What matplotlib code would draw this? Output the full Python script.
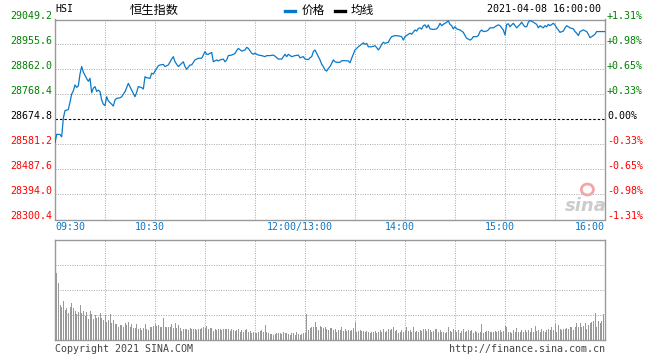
import matplotlib
matplotlib.use('Agg')
import matplotlib.pyplot as plt
import matplotlib.transforms as mtransforms
from matplotlib.lines import Line2D
from matplotlib.patches import Ellipse

# HSI intraday 2021-04-08, x = trading minutes since 09:30 (lunch break removed)
minutes = [0, 1, 3, 4, 5, 6, 8, 9, 10, 11, 12, 13, 14, 15, 16, 17, 18, 19, 20, 21,
           22, 23, 24, 25, 26, 27, 28, 29, 30, 31, 32, 34, 35, 36, 37, 39, 40, 42, 44, 46,
           48, 49, 50, 52, 53, 54, 55, 57, 58, 59, 60, 61, 62, 63, 65, 66, 68, 70, 71, 72,
           74, 76, 77, 78, 79, 81, 82, 84, 86, 88, 89, 90, 91, 92, 94, 95, 97, 98, 99, 101,
           102, 103, 104, 106, 108, 109, 110, 112, 114, 115, 116, 118, 119, 120, 122, 124, 126, 127, 129, 131,
           132, 134, 136, 138, 139, 140, 142, 144, 146, 147, 149, 150, 152, 153, 154, 155, 156, 157, 158, 159,
           160, 161, 162, 163, 164, 165, 166, 167, 168, 169, 171, 172, 174, 176, 177, 178, 179, 180, 181, 182,
           184, 185, 186, 187, 188, 190, 192, 193, 194, 195, 196, 197, 198, 200, 201, 202, 204, 206, 208, 209,
           210, 212, 213, 214, 216, 217, 218, 219, 220, 221, 222, 223, 224, 225, 227, 229, 230, 231, 232, 233,
           234, 235, 236, 237, 238, 239, 240, 241, 243, 245, 246, 247, 248, 249, 250, 251, 253, 254, 255, 256,
           257, 259, 260, 261, 263, 265, 266, 267, 268, 269, 270, 271, 272, 273, 274, 275, 276, 277, 279, 280,
           281, 282, 283, 284, 285, 287, 288, 289, 290, 291, 293, 294, 295, 296, 297, 299, 300, 301, 302, 303,
           305, 306, 307, 308, 309, 311, 312, 313, 314, 315, 317, 319, 320, 321, 323, 324, 325, 327, 330]
prices = [28588, 28619, 28619, 28610, 28680, 28708, 28712, 28740, 28770, 28782, 28804, 28795, 28801, 28845, 28873, 28852, 28840, 28828, 28818, 28829,
          28775, 28792, 28798, 28780, 28785, 28779, 28748, 28732, 28727, 28760, 28744, 28732, 28725, 28748, 28754, 28756, 28760, 28779, 28810, 28785,
          28760, 28777, 28798, 28794, 28789, 28835, 28831, 28829, 28848, 28845, 28856, 28866, 28876, 28879, 28881, 28873, 28879, 28901, 28910, 28891,
          28873, 28885, 28891, 28873, 28863, 28879, 28879, 28898, 28904, 28904, 28916, 28929, 28919, 28919, 28926, 28891, 28898, 28894, 28898, 28901,
          28891, 28898, 28914, 28916, 28922, 28933, 28941, 28931, 28935, 28945, 28941, 28923, 28919, 28923, 28916, 28914, 28910, 28914, 28914, 28916,
          28912, 28901, 28901, 28919, 28910, 28919, 28910, 28914, 28916, 28906, 28910, 28901, 28899, 28906, 28910, 28929, 28935, 28923, 28910, 28898,
          28882, 28873, 28860, 28856, 28866, 28873, 28885, 28898, 28891, 28889, 28889, 28895, 28895, 28894, 28887, 28904, 28919, 28935, 28941, 28947,
          28957, 28962, 28956, 28960, 28947, 28947, 28951, 28944, 28935, 28944, 28956, 28964, 28960, 28964, 28976, 28985, 28989, 28988, 28985, 28972,
          28985, 28994, 28998, 28994, 29010, 29006, 29016, 29018, 29013, 29026, 29029, 29018, 29029, 29014, 29012, 29014, 29022, 29035, 29026, 29031,
          29035, 29039, 29044, 29031, 29026, 29014, 29022, 29014, 29010, 29001, 28989, 28979, 28976, 28972, 28976, 28985, 28985, 28989, 29004, 29010,
          29004, 29006, 29010, 29018, 29018, 29026, 29029, 29026, 29018, 29010, 28991, 29031, 29033, 29022, 29029, 29035, 29026, 29018, 29031, 29039,
          29029, 29022, 29022, 29039, 29046, 29039, 29035, 29031, 29018, 29026, 29018, 29026, 29022, 29031, 29026, 29035, 29029, 29018, 29010, 29001,
          29006, 29018, 29026, 29022, 29018, 29014, 29004, 28998, 28989, 29004, 29010, 29004, 28994, 28981, 28989, 28994, 29004, 29004, 29004]

# volume bars, one per minute 09:31 .. 16:00, height in % of the volume panel
volume = [67, 57, 35, 33, 39, 30, 32, 27, 33, 37, 32, 29, 26, 28, 35, 27, 29, 24, 28, 21,
          29, 26, 21, 25, 22, 23, 27, 22, 20, 25, 18, 20, 26, 17, 20, 16, 16, 13, 15, 15,
          13, 17, 15, 18, 13, 16, 12, 12, 16, 11, 12, 10, 12, 16, 11, 10, 13, 13, 14, 16,
          14, 15, 13, 13, 22, 13, 13, 13, 13, 16, 12, 17, 12, 15, 12, 9, 11, 11, 11, 10,
          12, 11, 11, 11, 10, 11, 11, 12, 13, 12, 14, 11, 12, 12, 9, 11, 10, 11, 11, 10,
          11, 11, 11, 11, 9, 11, 10, 9, 10, 11, 8, 10, 8, 10, 11, 8, 9, 7, 8, 7,
          7, 8, 9, 10, 8, 15, 8, 7, 6, 6, 5, 6, 7, 7, 7, 6, 8, 7, 7, 6,
          5, 7, 7, 5, 8, 6, 5, 6, 7, 7, 26, 10, 12, 13, 13, 18, 13, 10, 14, 13,
          12, 13, 11, 10, 12, 12, 10, 11, 8,
          10, 10, 13, 9, 11, 9, 10, 9, 10, 12, 18, 8, 9, 10, 9, 9, 8, 9, 8, 7,
          8, 8, 9, 7, 8, 10, 8, 11, 8, 9, 11, 10, 11, 13, 9, 10, 7, 8, 10, 8,
          9, 13, 9, 10, 8, 13, 8, 9, 8, 10, 9, 11, 11, 9, 11, 10, 8, 9, 11, 11,
          8, 10, 8, 8, 7, 8, 13, 9, 8, 11, 10, 8, 10, 7, 9, 11, 8, 9, 10, 9,
          10, 7, 9, 8, 7, 8, 16, 7, 8, 9, 9, 8, 8, 8, 9, 8, 9, 10, 8, 9,
          14, 13, 8, 8, 7, 10, 8, 12, 8, 8, 10, 8, 10, 8, 10, 8, 12, 8, 14, 9,
          10, 8, 11, 9, 8, 10, 11, 10, 13, 10, 16, 8, 15, 11, 10, 11, 11, 12, 11, 13,
          13, 10, 13, 17, 13, 17, 13, 14, 17, 11, 15, 17, 18, 19, 27, 13, 19, 17, 19, 26,
          25]

prev_close = 28674.8
price_ticks = [29049.2, 28955.6, 28862.0, 28768.4, 28674.8, 28581.2, 28487.6, 28394.0, 28300.4]
grid_minutes = [30, 60, 90, 120, 150, 180, 210, 240, 270, 300]
time_ticks = [0, 60, 150, 210, 270, 330]
time_labels = ['09:30', '10:30', '12:00/13:00', '14:00', '15:00', '16:00']

BLUE = '#0a78c8'
GREEN = '#008000'
RED = '#ff0000'
GRID = '#aaaaaa'
FRAME = '#999999'
MONO = 'DejaVu Sans Mono'
FS = 7.2

W, H = 660, 360
fig = plt.figure(figsize=(W / 100, H / 100), dpi=100)


def rect(l, t, r, b):
    return [l / W, 1 - b / H, (r - l) / W, (b - t) / H]


def fxy(x, y):
    return x / W, 1 - y / H


ax = fig.add_axes(rect(55, 19.5, 605, 219.5))
axv = fig.add_axes(rect(55, 240, 605, 340))

for a in (ax, axv):
    a.set_xticks([])
    a.set_yticks([])
    for s in a.spines.values():
        s.set_color(FRAME)
        s.set_linewidth(1.0)
    for m in grid_minutes:
        a.axvline(m, color=GRID, lw=0.72, ls=(0, (1, 1.4)), zorder=0)

# price panel
for p in price_ticks[1:-1]:
    if p == prev_close:
        ax.axhline(p, color='black', lw=0.8, ls=(0, (2.2, 1.8)), zorder=1)
    else:
        ax.axhline(p, color=GRID, lw=0.72, ls=(0, (1, 1.4)), zorder=0)

ax.plot(minutes, prices, color=BLUE, lw=0.9, zorder=3)
ax.set_xlim(0, 330)
ax.set_ylim(price_ticks[-1], price_ticks[0])

ytr = ax.get_yaxis_transform()
for p in price_ticks:
    c = GREEN if p > prev_close else (RED if p < prev_close else 'black')
    ax.text(-3 / 550, p, f'{p:.1f}', transform=ytr, ha='right', va='baseline',
            color=c, fontsize=FS, family=MONO)
    pct = (p / prev_close - 1) * 100
    lab = '0.00%' if abs(pct) < 0.005 else f'{pct:+.2f}%'
    ax.text(1 + 2 / 550, p, lab, transform=ytr, ha='left', va='baseline',
            color=c, fontsize=FS, family=MONO)

xtr = ax.get_xaxis_transform()
for m, lab in zip(time_ticks, time_labels):
    if m == 0:
        ha, tr = 'left', xtr
    elif m == 330:
        ha, tr = 'right', xtr
    else:
        ha = 'center'
        tr = mtransforms.offset_copy(xtr, fig=fig, x=-5, y=0, units='dots')
    ax.text(m, -0.039, lab, transform=tr, ha=ha, va='center', color=BLUE,
            fontsize=FS, family=MONO)

# sina watermark
ax.text(0.965, 0.07, 'sina', transform=ax.transAxes, ha='center', va='center',
        fontsize=13, fontstyle='italic', fontweight='bold', color='#cccccc', zorder=2)
ax.add_patch(Ellipse((0.968, 0.15), 0.022, 0.055, transform=ax.transAxes,
                     facecolor='none', edgecolor='#f4a6a6', lw=2.0, zorder=2))

# volume panel
for v in (25, 50, 75):
    axv.axhline(v, color=GRID, lw=0.72, ls=(0, (1, 1.4)), zorder=0)
axv.bar(range(1, len(volume) + 1), volume, width=0.6, color='#999999',
        linewidth=0, antialiased=False, zorder=2)
axv.set_xlim(0, 330)
axv.set_ylim(0, 100)

# header
fig.text(*fxy(55, 9.5), 'HSI', ha='left', va='center', fontsize=FS, family=MONO)
fig.text(*fxy(154, 10), '恒生指数', ha='center', va='center', fontsize=8.8,
         family=['Noto Sans CJK SC', 'DejaVu Sans'])
fig.add_artist(Line2D([285 / W, 295 / W], [1 - 11 / H] * 2, color=BLUE, lw=2.4))
fig.text(*fxy(302, 10), '价格', ha='left', va='center', fontsize=8.4,
         family=['Noto Sans CJK SC', 'DejaVu Sans'])
fig.add_artist(Line2D([335 / W, 345 / W], [1 - 11 / H] * 2, color='black', lw=2.4))
fig.text(*fxy(351, 10), '均线', ha='left', va='center', fontsize=8.4,
         family=['Noto Sans CJK SC', 'DejaVu Sans'])
fig.text(*fxy(601, 9.5), '2021-04-08 16:00:00', ha='right', va='center',
         fontsize=FS, family=MONO)

# footer
fig.text(*fxy(55, 349), 'Copyright 2021 SINA.COM', ha='left', va='center',
         fontsize=FS, family=MONO, color='#444444')
fig.text(*fxy(605, 349), 'http://finance.sina.com.cn', ha='right', va='center',
         fontsize=FS, family=MONO, color='#444444')

fig.savefig('out.png', dpi=100)
